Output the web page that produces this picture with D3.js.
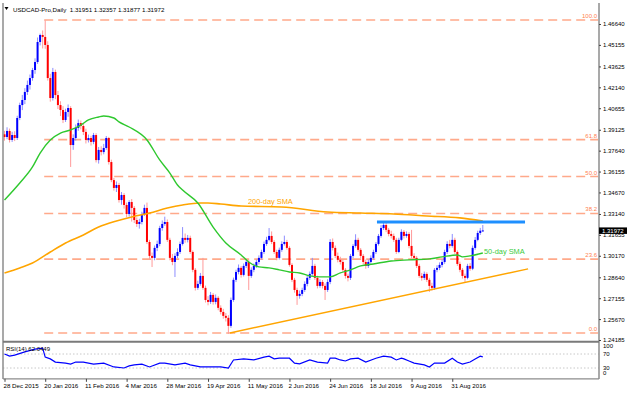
<!DOCTYPE html>
<html><head><meta charset="utf-8">
<script src="https://cdn.jsdelivr.net/npm/d3@7"></script>
<style>
body{margin:0;background:#fff}
svg{display:block}
text{font-family:"Liberation Sans",Arial,sans-serif}
</style>
</head><body>
<svg id="c" width="628" height="394"></svg>
<script>
// ---------- data ----------
const title = "USDCAD-Pro,Daily";
const titleOHLC = "1.31951 1.32357 1.31877 1.31972";
const dateLabels = ["28 Dec 2015","20 Jan 2016","11 Feb 2016","4 Mar 2016","28 Mar 2016","19 Apr 2016","11 May 2016","2 Jun 2016","24 Jun 2016","18 Jul 2016","9 Aug 2016","31 Aug 2016"];
const dateLabelIdx = [0,16,32,48,64,80,96,112,128,144,160,176];
const priceTicks = [1.46640,1.45155,1.43625,1.42140,1.40655,1.39125,1.37640,1.36155,1.34670,1.33140,1.31655,1.30170,1.28640,1.27155,1.25670,1.24185];
const rsiTicks = [100,70,30,0];
const rsiGrid = [70,30];

const open = [
1.3880,1.3861,1.3904,1.3840,1.3875,1.3854,1.3996,1.4088,1.4124,1.4181,
1.4231,1.4280,1.4337,1.4394,1.4536,1.4586,1.4572,1.4515,1.4280,1.4138,
1.4323,1.4159,1.4088,1.4053,1.3982,1.4039,1.4067,1.3804,1.3854,1.3925,
1.3960,1.3939,1.3897,1.3840,1.3854,1.3826,1.3875,1.3697,1.3769,1.3754,
1.3783,1.3854,1.3683,1.3555,1.3499,1.3520,1.3413,1.3449,1.3378,1.3314,
1.3399,1.3357,1.3271,1.3243,1.3257,1.3314,1.3357,1.3115,1.3016,1.3002,
1.3073,1.3101,1.3214,1.3243,1.3257,1.3130,1.3002,1.2973,1.3016,1.3044,
1.3101,1.3144,1.3130,1.3144,1.3044,1.2917,1.2789,1.2817,1.2874,1.2789,
1.2703,1.2689,1.2739,1.2689,1.2718,1.2647,1.2618,1.2590,1.2576,1.2519,
1.2703,1.2846,1.2902,1.2931,1.2881,1.2945,1.2973,1.2874,1.2917,1.2945,
1.2973,1.3002,1.3044,1.3101,1.3130,1.3158,1.3115,1.3044,1.3002,1.3059,
1.3101,1.3115,1.3073,1.2952,1.2846,1.2774,1.2732,1.2746,1.2774,1.2817,
1.2860,1.2888,1.2945,1.2860,1.2803,1.2831,1.2803,1.2774,1.2831,1.3115,
1.3073,1.3016,1.2988,1.2973,1.2917,1.2874,1.2860,1.3016,1.3087,1.3130,
1.3059,1.3016,1.2973,1.2945,1.2973,1.3002,1.3044,1.3101,1.3158,1.3214,
1.3236,1.3201,1.3172,1.3158,1.3130,1.3044,1.3130,1.3187,1.3158,1.3172,
1.3087,1.3016,1.3002,1.2945,1.2874,1.2860,1.2888,1.2846,1.2803,1.2789,
1.2917,1.2931,1.2952,1.2973,1.3044,1.3101,1.3087,1.3130,1.3044,1.2959,
1.2917,1.2874,1.2860,1.2945,1.2925,1.3073,1.3130,1.3179,1.31951
];
const high = [
1.3905,1.3930,1.3921,1.3898,1.3902,1.4012,1.4105,1.4160,1.4208,1.4262,
1.4305,1.4352,1.4420,1.4568,1.4596,1.4618,1.4690,1.4541,1.4310,1.4352,
1.4340,1.4188,1.4115,1.4080,1.4062,1.4092,1.4080,1.3880,1.3950,1.3985,
1.3978,1.3955,1.3920,1.3878,1.3870,1.3890,1.3888,1.3790,1.3795,1.3812,
1.3868,1.3862,1.3700,1.3570,1.3545,1.3535,1.3470,1.3462,1.3395,1.3412,
1.3420,1.3370,1.3290,1.3280,1.3330,1.3380,1.3395,1.3130,1.3040,1.3090,
1.3125,1.3230,1.3268,1.3295,1.3275,1.3145,1.3030,1.3035,1.3070,1.3118,
1.3221,1.3175,1.3165,1.3160,1.3055,1.2930,1.2840,1.2895,1.3002,1.2805,
1.2730,1.2760,1.2752,1.2742,1.2730,1.2665,1.2640,1.2610,1.2595,1.2720,
1.2862,1.2918,1.2955,1.2945,1.2962,1.2990,1.2985,1.2935,1.2962,1.2990,
1.3020,1.3060,1.3118,1.3152,1.3214,1.3190,1.3128,1.3060,1.3075,1.3120,
1.3160,1.3130,1.3085,1.2965,1.2860,1.2790,1.2770,1.2790,1.2835,1.2880,
1.2905,1.3002,1.2960,1.2875,1.2850,1.2845,1.2820,1.2850,1.3135,1.3140,
1.3090,1.3040,1.3010,1.2990,1.2930,1.2890,1.3030,1.3100,1.3170,1.3145,
1.3072,1.3030,1.2990,1.2990,1.3020,1.3060,1.3115,1.3172,1.3235,1.3264,
1.3250,1.3215,1.3195,1.3175,1.3145,1.3145,1.3205,1.3200,1.3190,1.3185,
1.3201,1.3035,1.3015,1.2960,1.2895,1.2905,1.2900,1.2860,1.2825,1.2930,
1.2950,1.2970,1.2992,1.3060,1.3120,1.3130,1.3172,1.3145,1.3055,1.2975,
1.2930,1.2890,1.2960,1.2965,1.3090,1.3150,1.3195,1.3215,1.32357
];
const low = [
1.3835,1.3845,1.3822,1.3826,1.3832,1.3840,1.3981,1.4052,1.4095,1.4160,
1.4198,1.4261,1.4310,1.4380,1.4512,1.4490,1.4488,1.4262,1.4112,1.4120,
1.4130,1.4060,1.4010,1.3960,1.3968,1.4005,1.3648,1.3770,1.3835,1.3905,
1.3915,1.3875,1.3815,1.3822,1.3800,1.3810,1.3680,1.3672,1.3730,1.3738,
1.3770,1.3665,1.3540,1.3480,1.3470,1.3395,1.3380,1.3352,1.3290,1.3295,
1.3260,1.3250,1.3222,1.3210,1.3240,1.3300,1.3100,1.2990,1.2937,1.2985,
1.3050,1.3085,1.3195,1.3230,1.3115,1.2985,1.2950,1.2866,1.3000,1.3030,
1.3090,1.3110,1.3112,1.3030,1.2900,1.2770,1.2775,1.2805,1.2775,1.2685,
1.2665,1.2675,1.2670,1.2672,1.2630,1.2600,1.2570,1.2550,1.2462,1.2505,
1.2690,1.2830,1.2885,1.2862,1.2870,1.2930,1.2774,1.2860,1.2900,1.2930,
1.2955,1.2990,1.3030,1.3088,1.3120,1.3100,1.3030,1.2985,1.2990,1.3045,
1.3090,1.3060,1.2940,1.2830,1.2755,1.2668,1.2712,1.2730,1.2760,1.2800,
1.2845,1.2875,1.2845,1.2785,1.2790,1.2785,1.2703,1.2760,1.2815,1.3055,
1.3000,1.2970,1.2955,1.2900,1.2855,1.2835,1.2845,1.3000,1.3075,1.3045,
1.3000,1.2955,1.2925,1.2930,1.2960,1.2990,1.3030,1.3090,1.3145,1.3200,
1.3185,1.3155,1.3140,1.3115,1.3030,1.3035,1.3120,1.3140,1.3145,1.3070,
1.3000,1.2985,1.2930,1.2860,1.2840,1.2845,1.2830,1.2760,1.2770,1.2775,
1.2900,1.2915,1.2935,1.2960,1.3030,1.3070,1.3075,1.3030,1.2945,1.2900,
1.2855,1.2825,1.2850,1.2910,1.2915,1.3060,1.3120,1.3165,1.31877
];
const close = [
1.3861,1.3904,1.3840,1.3875,1.3854,1.3996,1.4088,1.4124,1.4181,1.4231,
1.4280,1.4337,1.4394,1.4536,1.4586,1.4572,1.4515,1.4280,1.4138,1.4323,
1.4159,1.4088,1.4053,1.3982,1.4039,1.4067,1.3804,1.3854,1.3925,1.3960,
1.3939,1.3897,1.3840,1.3854,1.3826,1.3875,1.3697,1.3769,1.3754,1.3783,
1.3854,1.3683,1.3555,1.3499,1.3520,1.3413,1.3449,1.3378,1.3314,1.3399,
1.3357,1.3271,1.3243,1.3257,1.3314,1.3357,1.3115,1.3016,1.3002,1.3073,
1.3101,1.3214,1.3243,1.3257,1.3130,1.3002,1.2973,1.3016,1.3044,1.3101,
1.3144,1.3130,1.3144,1.3044,1.2917,1.2789,1.2817,1.2874,1.2789,1.2703,
1.2689,1.2739,1.2689,1.2718,1.2647,1.2618,1.2590,1.2576,1.2519,1.2703,
1.2846,1.2902,1.2931,1.2881,1.2945,1.2973,1.2874,1.2917,1.2945,1.2973,
1.3002,1.3044,1.3101,1.3130,1.3158,1.3115,1.3044,1.3002,1.3059,1.3101,
1.3115,1.3073,1.2952,1.2846,1.2774,1.2732,1.2746,1.2774,1.2817,1.2860,
1.2888,1.2945,1.2860,1.2803,1.2831,1.2803,1.2774,1.2831,1.3115,1.3073,
1.3016,1.2988,1.2973,1.2917,1.2874,1.2860,1.3016,1.3087,1.3130,1.3059,
1.3016,1.2973,1.2945,1.2973,1.3002,1.3044,1.3101,1.3158,1.3214,1.3236,
1.3201,1.3172,1.3158,1.3130,1.3044,1.3130,1.3187,1.3158,1.3172,1.3087,
1.3016,1.3002,1.2945,1.2874,1.2860,1.2888,1.2846,1.2803,1.2789,1.2917,
1.2931,1.2952,1.2973,1.3044,1.3101,1.3087,1.3130,1.3044,1.2959,1.2917,
1.2874,1.2860,1.2945,1.2925,1.3073,1.3130,1.3179,1.3195,1.31972
];
const lastPrice = 1.31972;

const sma50Idx = [0,6,11,14,18,22,26,30,33,37,39,43,45,49,56,61,65,68,70,76,82,87,93,96,100,104,108,112,116,120,124,128,132,136,140,145,152,159,167,172,178,180,183,188];
const sma50Val = [1.3413,1.3534,1.3648,1.3747,1.3840,1.3889,1.3911,1.3946,1.3982,1.4003,1.4010,1.3996,1.3968,1.3932,1.3840,1.3698,1.3605,1.3520,1.3484,1.3392,1.3221,1.3108,1.3023,1.2973,1.2938,1.2931,1.2917,1.2902,1.2895,1.2874,1.2867,1.2867,1.2895,1.2917,1.2945,1.2959,1.2980,1.2988,1.2995,1.3009,1.3023,1.3009,1.3016,1.3037];
const sma200Idx = [0,6,11,18,24,31,37,44,50,57,64,70,77,80,85,93,109,127,140,153,166,179,188];
const sma200Val = [1.2895,1.2931,1.2966,1.3044,1.3108,1.3165,1.3221,1.3264,1.3293,1.3321,1.3356,1.3378,1.3392,1.3392,1.3385,1.3371,1.3364,1.3328,1.3321,1.3314,1.3300,1.3286,1.3264];

const rsiIdx = [0,2,4,8,12,15,16,18,20,24,26,28,31,35,39,43,47,49,51,54,57,61,63,67,71,73,77,81,85,88,90,94,98,102,104,106,108,112,114,116,120,123,127,128,130,132,134,136,139,142,146,149,152,154,156,157,159,161,165,167,169,173,176,178,180,183,185,187,188];
const rsiVal = [70,64,67,76,84,87,61,56,47,44,41,47,47,41,44,33,30,36,39,41,33,44,44,39,44,39,33,33,33,30,53,56,53,61,64,56,58,58,44,42,53,47,44,58,58,53,50,56,58,47,58,64,61,53,58,56,50,44,39,33,44,44,58,47,41,47,56,64,62];
const rsiText = "RSI(14) 62.0449";

const fibLevels = [0,23.6,38.2,50,61.8,100];
const fibLabels = ["0.0","23.6","38.2","50.0","61.8","100.0"];
const fibHigh = 1.4692, fibLow = 1.2468, fibStartIdx = 15.6;

const resistIdx = [146.4, 204.6], resistVal = [1.3257, 1.3257];
const supportIdx = [88.6, 205.8], supportVal = [1.2469, 1.2924];
const sma200Label = "200-day SMA", sma50Label = "50-day SMA";

// ---------- drawing ----------
const svg = d3.select("#c");
const W = 628;
const x = d3.scaleLinear().domain([0,188]).range([4.5,482.8]);
const y = d3.scaleLinear().domain([1.24185,1.46640]).range([340,24]);
const yr = d3.scaleLinear().domain([0,100]).range([378.5,343.5]);
const L = 3, R = 599;
const gray = "#8c8c8c";

// fib lines
const fg = svg.append("g");
fibLevels.forEach((lv,k)=>{
  const p = fibLow + (fibHigh-fibLow)*lv/100;
  fg.append("line").attr("x1",x(fibStartIdx)).attr("x2",R-1).attr("y1",y(p)).attr("y2",y(p))
    .attr("stroke","#ffa98a").attr("stroke-width",1.6).attr("stroke-dasharray","9,5");
  fg.append("text").attr("x",597).attr("y",y(p)-2).attr("text-anchor","end")
    .attr("font-size","6px").attr("fill","#ff7f50").text(fibLabels[k]);
});

// RSI grid
rsiGrid.forEach(v=>{
  svg.append("line").attr("x1",L).attr("x2",R).attr("y1",yr(v)).attr("y2",yr(v))
    .attr("stroke","#c8c8c8").attr("stroke-width",1).attr("stroke-dasharray","1.5,2");
});

// candles
const idx = d3.range(close.length);
const up = i => close[i] >= open[i];
svg.append("g").selectAll("line").data(idx).join("line")
  .attr("x1",i=>x(i)).attr("x2",i=>x(i))
  .attr("y1",i=>y(high[i])).attr("y2",i=>y(low[i]))
  .attr("stroke",i=>up(i)?"#8d8dff":"#ff9a9a").attr("stroke-width",1);
svg.append("g").selectAll("rect").data(idx).join("rect")
  .attr("x",i=>x(i)-1).attr("width",2)
  .attr("y",i=>y(Math.max(open[i],close[i])))
  .attr("height",i=>Math.max(1,Math.abs(y(open[i])-y(close[i]))))
  .attr("fill",i=>up(i)?"#0000ff":"#ff0000");

// SMAs
const line = d3.line().curve(d3.curveMonotoneX);
svg.append("path").attr("d",line(sma200Idx.map((d,i)=>[x(d),y(sma200Val[i])])))
  .attr("fill","none").attr("stroke","#ffa500").attr("stroke-width",1.6);
svg.append("path").attr("d",line(sma50Idx.map((d,i)=>[x(d),y(sma50Val[i])])))
  .attr("fill","none").attr("stroke","#2ec82e").attr("stroke-width",1.4);

// trend lines
svg.append("line").attr("x1",x(supportIdx[0])).attr("x2",x(supportIdx[1]))
  .attr("y1",y(supportVal[0])).attr("y2",y(supportVal[1]))
  .attr("stroke","#ffa500").attr("stroke-width",1.5);
svg.append("line").attr("x1",x(resistIdx[0])).attr("x2",x(resistIdx[1]))
  .attr("y1",y(resistVal[0])).attr("y2",y(resistVal[1]))
  .attr("stroke","#1e8fff").attr("stroke-width",3);

// SMA labels
svg.append("text").attr("x",248).attr("y",y(1.3413)+1).attr("dominant-baseline","central")
  .attr("font-size","7.4px").attr("fill","#ffa500").text(sma200Label);
svg.append("text").attr("x",484).attr("y",y(1.3037)-1).attr("dominant-baseline","central")
  .attr("font-size","7.4px").attr("fill","#3ccc3c").text(sma50Label);

// RSI line
svg.append("path").attr("d",d3.line()(rsiIdx.map((d,i)=>[x(d),yr(rsiVal[i])])))
  .attr("fill","none").attr("stroke","#0000ff").attr("stroke-width",1.2);
svg.append("text").attr("x",6).attr("y",348.5).attr("dominant-baseline","central")
  .attr("font-size","6px").attr("fill","#000").text(rsiText);

// frame
svg.append("line").attr("x1",L).attr("x2",L).attr("y1",3).attr("y2",379).attr("stroke",gray).attr("stroke-width",1.5);
svg.append("line").attr("x1",R).attr("x2",R).attr("y1",3).attr("y2",379).attr("stroke",gray).attr("stroke-width",1.5);
svg.append("line").attr("x1",L).attr("x2",R).attr("y1",341.7).attr("y2",341.7).attr("stroke","#7a7a7a").attr("stroke-width",2);
svg.append("line").attr("x1",L).attr("x2",R).attr("y1",378.8).attr("y2",378.8).attr("stroke",gray).attr("stroke-width",1.2);

// price axis
const pa = svg.append("g").attr("transform",`translate(${R},0)`)
  .call(d3.axisRight(y).tickValues(priceTicks).tickFormat(d3.format(".5f")).tickSize(2).tickPadding(2));
pa.select(".domain").remove();
pa.selectAll("text").attr("font-size","6px").attr("font-family","Liberation Sans, Arial, sans-serif").attr("fill","#000");
pa.selectAll("line").attr("stroke","#444");

// current price tag
svg.append("rect").attr("x",R).attr("y",y(lastPrice)-3).attr("width",28).attr("height",6.5).attr("fill","#000");
svg.append("text").attr("x",R+3).attr("y",y(lastPrice)+0.3).attr("dominant-baseline","central")
  .attr("font-size","6px").attr("fill","#fff").text(d3.format(".5f")(lastPrice));

// RSI axis labels
rsiTicks.forEach(v=>{
  const yy = Math.max(345.5, Math.min(373, yr(v)));
  svg.append("text").attr("x",R+4).attr("y",yy).attr("dominant-baseline","central")
    .attr("font-size","6px").attr("fill","#000").text(v);
});

// date axis
const da = svg.append("g").attr("transform","translate(0,378.8)")
  .call(d3.axisBottom(x).tickValues(dateLabelIdx).tickFormat((d,i)=>dateLabels[i]).tickSize(3).tickPadding(2));
da.select(".domain").remove();
da.selectAll("line").attr("stroke","#444");
da.selectAll("text").attr("font-size","6.2px").attr("font-family","Liberation Sans, Arial, sans-serif")
  .attr("fill","#000").attr("text-anchor","start").attr("dx","-1.5");

// title
svg.append("path").attr("d","M4.5,7 L8.5,7 L6.5,10 Z").attr("fill","#000");
svg.append("text").attr("x",13).attr("y",9).attr("dominant-baseline","central")
  .attr("font-size","6.2px").attr("fill","#000").attr("xml:space","preserve")
  .text(title + "  " + titleOHLC);
</script>
</body></html>
